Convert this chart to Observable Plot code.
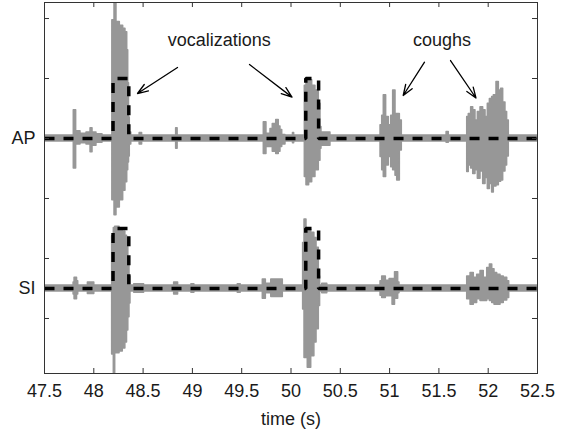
<!DOCTYPE html>
<html>
<head>
<meta charset="utf-8">
<script src="https://cdn.jsdelivr.net/npm/d3@7"></script>
<script src="https://cdn.jsdelivr.net/npm/@observablehq/plot@0.6"></script>
<style>
  html, body { margin: 0; padding: 0; background: #fff; }
  #chart { width: 570px; height: 432px; overflow: hidden; }
</style>
</head>
<body>
<div id="chart"></div>
<script>
// ---------- data ----------
const xTicks = [47.5, 48, 48.5, 49, 49.5, 50, 50.5, 51, 51.5, 52, 52.5];
const yTicks = [0, 1, 2, 3, 4, 5];
const channelNames = ["AP", "SI"];
const channelBaselines = [3, 0.5];

// envelope samples: [time (s), upper, lower] (step-after)
const apEnvelope = [
  [47.500, 0.05, -0.05], [47.797, 0.47, -0.50], [47.821, 0.12, -0.10], [47.865, 0.08, -0.08],
  [47.926, 0.10, -0.10], [47.967, 0.17, -0.23], [47.987, 0.10, -0.12], [48.027, 0.07, -0.07],
  [48.088, 0.05, -0.05],
  [48.188, 1.97, -1.03], [48.210, 2.30, -1.28], [48.230, 1.94, -1.15], [48.264, 1.88, -1.03],
  [48.298, 1.83, -0.87], [48.321, 1.77, -0.73], [48.339, 1.47, -0.53], [48.349, 0.92, -0.40],
  [48.357, 0.35, -0.30], [48.365, 0.10, -0.10], [48.380, 0.05, -0.05],
  [48.465, 0.09, -0.10], [48.490, 0.05, -0.05], [48.835, 0.17, -0.17], [48.850, 0.05, -0.05],
  [49.724, 0.27, -0.26], [49.751, 0.08, -0.14], [49.792, 0.16, -0.14], [49.815, 0.24, -0.22],
  [49.850, 0.31, -0.26], [49.876, 0.20, -0.22], [49.893, 0.14, -0.14], [49.911, 0.06, -0.10],
  [49.944, 0.05, -0.05], [50.020, 0.09, -0.08], [50.032, 0.05, -0.05],
  [50.140, 0.88, -0.64], [50.157, 0.99, -0.78], [50.184, 0.97, -0.73], [50.215, 0.88, -0.64],
  [50.248, 0.80, -0.53], [50.282, 0.58, -0.37], [50.299, 0.19, -0.17], [50.309, 0.05, -0.05],
  [50.316, 0.10, -0.12], [50.400, 0.05, -0.05],
  [50.908, 0.22, -0.31], [50.925, 0.38, -0.53], [50.941, 0.72, -0.64], [50.965, 0.36, -0.45],
  [50.992, 0.22, -0.31], [51.016, 0.38, -0.48], [51.036, 0.80, -0.53], [51.060, 0.41, -0.62],
  [51.077, 0.41, -0.70], [51.104, 0.30, -0.20], [51.124, 0.05, -0.05],
  [51.578, 0.11, -0.07], [51.600, 0.05, -0.05],
  [51.787, 0.36, -0.56], [51.803, 0.41, -0.45], [51.827, 0.52, -0.50], [51.848, 0.47, -0.59],
  [51.871, 0.30, -0.53], [51.895, 0.44, -0.67], [51.922, 0.52, -0.55], [51.949, 0.47, -0.76],
  [51.973, 0.36, -0.66], [51.996, 0.58, -0.84], [52.017, 0.66, -0.76], [52.040, 0.69, -0.90],
  [52.057, 0.72, -0.80], [52.084, 0.94, -0.78], [52.108, 0.80, -0.72], [52.131, 0.83, -0.70],
  [52.152, 0.60, -0.55], [52.175, 0.44, -0.45], [52.192, 0.30, -0.30], [52.209, 0.05, -0.05],
  [52.500, 0.05, -0.05]
];

const siEnvelope = [
  [47.500, 0.05, -0.05], [47.795, 0.10, -0.10], [47.805, 0.18, -0.18], [47.830, 0.12, -0.10],
  [47.842, 0.05, -0.05], [47.940, 0.10, -0.09], [48.005, 0.05, -0.05],
  [48.186, 0.87, -1.10], [48.203, 1.01, -1.41], [48.217, 1.03, -1.08], [48.261, 1.00, -1.05],
  [48.294, 0.95, -1.00], [48.320, 0.88, -0.90], [48.337, 0.76, -0.70], [48.350, 0.48, -0.48],
  [48.362, 0.20, -0.25], [48.372, 0.05, -0.05],
  [48.410, 0.07, -0.07], [48.510, 0.05, -0.05], [48.815, 0.10, -0.10], [48.855, 0.05, -0.05],
  [48.990, 0.07, -0.07], [49.020, 0.05, -0.05], [49.460, 0.07, -0.07], [49.490, 0.05, -0.05],
  [49.714, 0.15, -0.17], [49.745, 0.08, -0.08], [49.800, 0.15, -0.14], [49.917, 0.05, -0.05],
  [50.123, 0.76, -0.35], [50.137, 1.15, -1.16], [50.157, 0.98, -1.16], [50.170, 0.98, -1.32],
  [50.205, 0.93, -1.13], [50.237, 0.84, -0.90], [50.259, 0.68, -0.68], [50.282, 0.20, -0.29],
  [50.295, 0.05, -0.05], [50.317, 0.08, -0.08], [50.368, 0.05, -0.05],
  [50.908, 0.12, -0.12], [50.925, 0.20, -0.16], [50.962, 0.13, -0.13], [51.000, 0.16, -0.13],
  [51.030, 0.16, -0.27], [51.055, 0.27, -0.17], [51.087, 0.10, -0.08], [51.100, 0.05, -0.05],
  [51.787, 0.20, -0.18], [51.821, 0.26, -0.27], [51.854, 0.18, -0.24], [51.888, 0.23, -0.18],
  [51.922, 0.29, -0.21], [51.955, 0.18, -0.21], [51.990, 0.34, -0.18], [52.017, 0.40, -0.21],
  [52.041, 0.32, -0.24], [52.064, 0.26, -0.27], [52.091, 0.23, -0.27], [52.125, 0.20, -0.24],
  [52.158, 0.18, -0.20], [52.193, 0.12, -0.16], [52.213, 0.05, -0.05],
  [52.500, 0.05, -0.05]
];

// detected vocalization intervals (s)
const detectionOnsets = [48.195, 50.15];
const detectionOffsets = [48.355, 50.28];
const detectionLevel = 1;

// annotations
const annotationTexts = ["vocalizations", "coughs"];
const annotationX = [49.272, 51.531];
const annotationY = [4.54, 4.54];
// arrows: [x1, y1, x2, y2]
const annotationArrows = [
  [48.849, 4.183, 48.443, 3.750],
  [49.579, 4.233, 50.010, 3.690],
  [51.354, 4.272, 51.138, 3.717],
  [51.618, 4.300, 51.876, 3.675]
];
const xLabel = "time (s)";

// ---------- build tables ----------
const envelopes = [apEnvelope, siEnvelope];
const waveRows = [];
envelopes.forEach((env, i) => {
  env.forEach(([t, hi, lo]) => waveRows.push({
    channel: channelNames[i], t, hi: channelBaselines[i] + hi, lo: channelBaselines[i] + lo
  }));
});

const detRows = [];
channelNames.forEach((name, i) => {
  const b = channelBaselines[i];
  detRows.push({channel: name, t: xTicks[0], v: b});
  detectionOnsets.forEach((on, k) => {
    const off = detectionOffsets[k];
    detRows.push({channel: name, t: on, v: b});
    detRows.push({channel: name, t: on, v: b + detectionLevel});
    detRows.push({channel: name, t: off, v: b + detectionLevel});
    detRows.push({channel: name, t: off, v: b});
  });
  detRows.push({channel: name, t: xTicks[xTicks.length - 1], v: b});
});

const annRows = annotationTexts.map((text, i) => ({text, x: annotationX[i], y: annotationY[i]}));
const arrowRows = annotationArrows.map(([x1, y1, x2, y2]) => ({x1, y1, x2, y2}));

const gray = "#979797";
const ink = "#1a1a1a";
const font = "'Liberation Sans', Arial, Helvetica, sans-serif";

const chart = Plot.plot({
  width: 570,
  height: 432,
  marginTop: 2,
  marginRight: 33,
  marginBottom: 59,
  marginLeft: 44,
  style: {fontFamily: font, fontSize: "18px", color: ink, background: "#fff"},
  x: {domain: [xTicks[0], xTicks[xTicks.length - 1]]},
  y: {domain: [-0.917, 5.267]},
  marks: [
    Plot.areaY(waveRows, {x: "t", y1: "lo", y2: "hi", z: "channel", curve: "step-after",
      fill: gray, stroke: gray, strokeWidth: 1.5, strokeLinejoin: "round", clip: true}),
    Plot.line(detRows, {x: "t", y: "v", z: "channel", stroke: "#000", strokeWidth: 3.5,
      strokeDasharray: "10,9", strokeLinecap: "butt", strokeLinejoin: "miter", clip: true}),
    Plot.frame({stroke: "#333", strokeWidth: 1}),
    Plot.tickX(xTicks, {x: d => d, insetTop: 366, stroke: "#333"}),
    Plot.tickX(xTicks, {x: d => d, insetBottom: 366, stroke: "#333"}),
    Plot.tickY(yTicks, {y: d => d, insetRight: 488, stroke: "#333"}),
    Plot.tickY(yTicks, {y: d => d, insetLeft: 488, stroke: "#333"}),
    Plot.axisX(xTicks, {tickSize: 0, tickPadding: 11, fontSize: 18, label: null, tickFormat: d => String(d)}),
    Plot.axisY(channelBaselines, {tickSize: 0, tickPadding: 9, fontSize: 18, label: null,
      tickFormat: d => channelNames[channelBaselines.indexOf(d)]}),
    Plot.text([xLabel], {text: d => d, frameAnchor: "bottom", dy: 51, lineAnchor: "bottom", fontSize: 18}),
    Plot.text(annRows, {x: "x", y: "y", text: "text", lineAnchor: "bottom", fontSize: 18}),
    Plot.arrow(arrowRows, {x1: "x1", y1: "y1", x2: "x2", y2: "y2", stroke: "#000",
      strokeWidth: 1.3, headLength: 13, headAngle: 40})
  ]
});
document.getElementById("chart").appendChild(chart);
</script>
</body>
</html>
